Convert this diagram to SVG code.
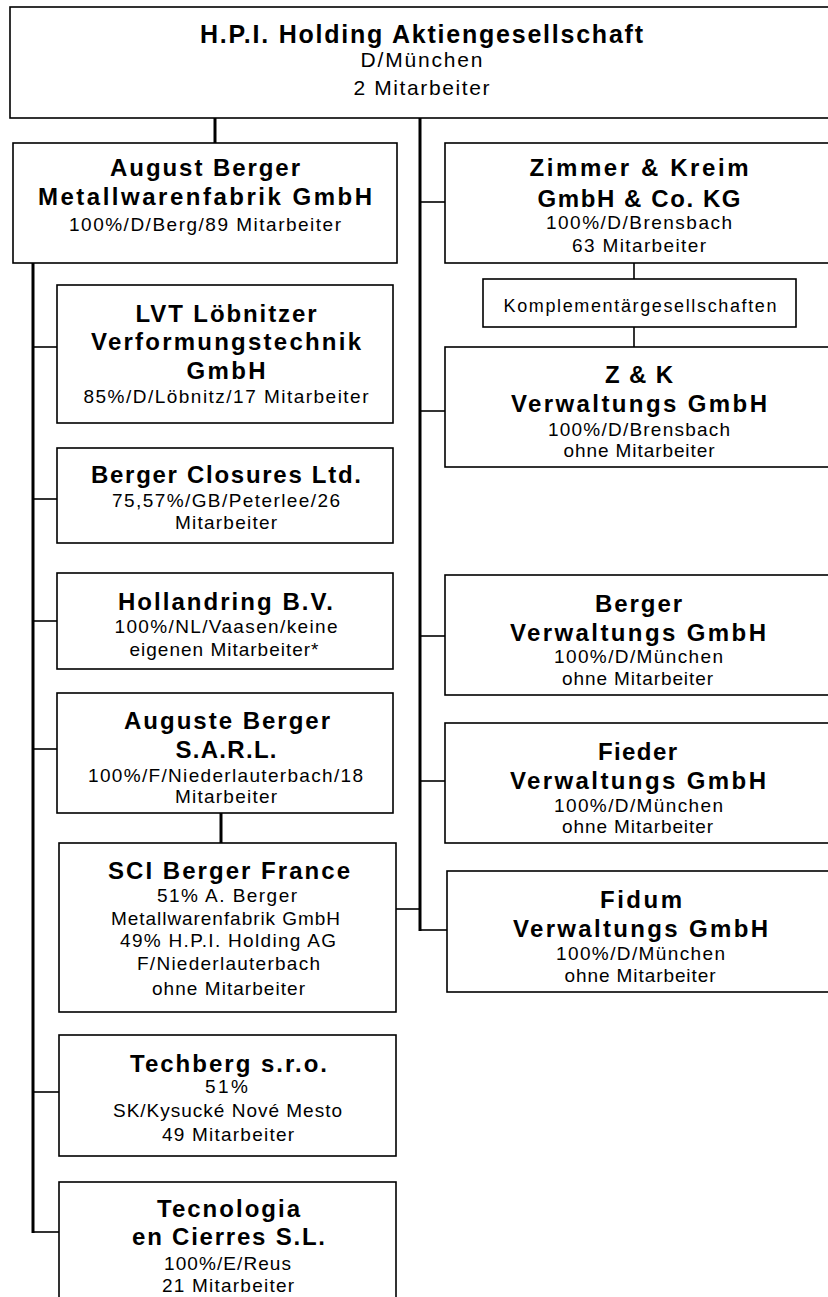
<svg xmlns="http://www.w3.org/2000/svg" width="828" height="1297" viewBox="0 0 828 1297">
<style>
.box{fill:#fff;stroke:#000;stroke-width:1.6}
.thick{stroke:#000;stroke-width:3;fill:none}
.thin{stroke:#000;stroke-width:1.6;fill:none}
text{font-family:"Liberation Sans",Arial,sans-serif;fill:#000;text-anchor:middle}
.b{font-weight:bold;font-size:24px}
.n{font-size:19px}
.bt{font-weight:bold;font-size:25px}
.nt{font-size:21px}
.k{font-size:18px}
</style>
<rect width="828" height="1297" fill="#fff"/>
<g id="connectors">
<line class="thick" x1="215" y1="118" x2="215" y2="143"/>
<line class="thick" x1="420" y1="118" x2="420" y2="931"/>
<line class="thin" x1="420" y1="202" x2="445" y2="202"/>
<line class="thin" x1="420" y1="411" x2="445" y2="411"/>
<line class="thin" x1="420" y1="636" x2="445" y2="636"/>
<line class="thin" x1="420" y1="781" x2="445" y2="781"/>
<line class="thin" x1="420" y1="930" x2="447" y2="930"/>
<line class="thin" x1="396" y1="909" x2="420" y2="909"/>
<line class="thin" x1="634" y1="263" x2="634" y2="279"/>
<line class="thin" x1="634" y1="327" x2="634" y2="347"/>
<line class="thick" x1="33" y1="263" x2="33" y2="1233"/>
<line class="thin" x1="33" y1="347" x2="57" y2="347"/>
<line class="thin" x1="33" y1="499" x2="57" y2="499"/>
<line class="thin" x1="33" y1="621" x2="57" y2="621"/>
<line class="thin" x1="33" y1="749" x2="57" y2="749"/>
<line class="thin" x1="33" y1="1092" x2="59" y2="1092"/>
<line class="thin" x1="33" y1="1232" x2="59" y2="1232"/>
<line class="thick" x1="221" y1="813" x2="221" y2="843"/>
</g>
<g id="hpi">
<rect class="box" x="10" y="7" width="830" height="111"/>
<text class="bt" x="421.5" y="43" textLength="443">H.P.I. Holding Aktiengesellschaft</text>
<text class="nt" x="421.5" y="67" textLength="122">D/München</text>
<text class="nt" x="421.5" y="95" textLength="136">2 Mitarbeiter</text>
</g>
<g id="august-berger">
<rect class="box" x="13" y="143" width="384" height="120"/>
<text class="b" x="205" y="176" textLength="190">August Berger</text>
<text class="b" x="205" y="205" textLength="334">Metallwarenfabrik GmbH</text>
<text class="n" x="205" y="231" textLength="272">100%/D/Berg/89 Mitarbeiter</text>
</g>
<g id="zimmer-kreim">
<rect class="box" x="445" y="143" width="390" height="120"/>
<text class="b" x="639" y="176" textLength="219">Zimmer &amp; Kreim</text>
<text class="b" x="639" y="207" textLength="203">GmbH &amp; Co. KG</text>
<text class="n" x="639" y="229" textLength="186">100%/D/Brensbach</text>
<text class="n" x="639" y="252" textLength="134">63 Mitarbeiter</text>
</g>
<g id="komplementaer">
<rect class="box" x="483" y="279" width="313" height="48"/>
<text class="k" x="640" y="312" textLength="273">Komplementärgesellschaften</text>
</g>
<g id="zk-verwaltung">
<rect class="box" x="445" y="347" width="390" height="120"/>
<text class="b" x="639" y="383" textLength="68">Z &amp; K</text>
<text class="b" x="639" y="412" textLength="256">Verwaltungs GmbH</text>
<text class="n" x="639" y="436" textLength="182">100%/D/Brensbach</text>
<text class="n" x="639" y="457" textLength="151">ohne Mitarbeiter</text>
</g>
<g id="lvt">
<rect class="box" x="57" y="285" width="336" height="138"/>
<text class="b" x="226" y="322" textLength="181">LVT Löbnitzer</text>
<text class="b" x="226" y="350" textLength="270">Verformungstechnik</text>
<text class="b" x="226" y="379" textLength="79">GmbH</text>
<text class="n" x="226" y="403" textLength="285">85%/D/Löbnitz/17 Mitarbeiter</text>
</g>
<g id="berger-closures">
<rect class="box" x="57" y="448" width="336" height="95"/>
<text class="b" x="226" y="483" textLength="270">Berger Closures Ltd.</text>
<text class="n" x="226" y="507" textLength="228">75,57%/GB/Peterlee/26</text>
<text class="n" x="226" y="529" textLength="102">Mitarbeiter</text>
</g>
<g id="hollandring">
<rect class="box" x="57" y="573" width="336" height="96"/>
<text class="b" x="225.5" y="610" textLength="215">Hollandring B.V.</text>
<text class="n" x="226" y="633" textLength="223">100%/NL/Vaasen/keine</text>
<text class="n" x="224" y="656" textLength="189">eigenen Mitarbeiter*</text>
</g>
<g id="auguste-berger-sarl">
<rect class="box" x="57" y="693" width="336" height="120"/>
<text class="b" x="227" y="729" textLength="206">Auguste Berger</text>
<text class="b" x="226" y="758" textLength="101">S.A.R.L.</text>
<text class="n" x="225.5" y="782" textLength="275">100%/F/Niederlauterbach/18</text>
<text class="n" x="226" y="803" textLength="102">Mitarbeiter</text>
</g>
<g id="sci-berger-france">
<rect class="box" x="59" y="843" width="337" height="169"/>
<text class="b" x="229" y="879" textLength="242">SCI Berger France</text>
<text class="n" x="227" y="902" textLength="140">51% A. Berger</text>
<text class="n" x="225.5" y="925" textLength="229">Metallwarenfabrik GmbH</text>
<text class="n" x="228" y="947" textLength="216">49% H.P.I. Holding AG</text>
<text class="n" x="228.5" y="970" textLength="183">F/Niederlauterbach</text>
<text class="n" x="228.5" y="995" textLength="153">ohne Mitarbeiter</text>
</g>
<g id="techberg">
<rect class="box" x="59" y="1035" width="337" height="121"/>
<text class="b" x="228.5" y="1072" textLength="197">Techberg s.r.o.</text>
<text class="n" x="226.5" y="1093" textLength="43">51%</text>
<text class="n" x="227.5" y="1117" textLength="229">SK/Kysucké Nové Mesto</text>
<text class="n" x="228" y="1141" textLength="132">49 Mitarbeiter</text>
</g>
<g id="tecnologia">
<rect class="box" x="59" y="1182" width="337" height="130"/>
<text class="b" x="228.5" y="1217" textLength="143">Tecnologia</text>
<text class="b" x="228.5" y="1245" textLength="193">en Cierres S.L.</text>
<text class="n" x="227.5" y="1270" textLength="127">100%/E/Reus</text>
<text class="n" x="228" y="1292" textLength="132">21 Mitarbeiter</text>
</g>
<g id="berger-verwaltung">
<rect class="box" x="445" y="575" width="390" height="120"/>
<text class="b" x="638.5" y="612" textLength="87">Berger</text>
<text class="b" x="638" y="641" textLength="256">Verwaltungs GmbH</text>
<text class="n" x="638.5" y="663" textLength="169">100%/D/München</text>
<text class="n" x="637.5" y="685" textLength="151">ohne Mitarbeiter</text>
</g>
<g id="fieder-verwaltung">
<rect class="box" x="445" y="723" width="390" height="120"/>
<text class="b" x="637.5" y="760" textLength="79">Fieder</text>
<text class="b" x="638" y="789" textLength="256">Verwaltungs GmbH</text>
<text class="n" x="638.5" y="812" textLength="169">100%/D/München</text>
<text class="n" x="637.5" y="833" textLength="151">ohne Mitarbeiter</text>
</g>
<g id="fidum-verwaltung">
<rect class="box" x="447" y="871" width="390" height="121"/>
<text class="b" x="641" y="908" textLength="82">Fidum</text>
<text class="b" x="640.5" y="937" textLength="255">Verwaltungs GmbH</text>
<text class="n" x="640.5" y="960" textLength="169">100%/D/München</text>
<text class="n" x="640" y="982" textLength="151">ohne Mitarbeiter</text>
</g>
</svg>
